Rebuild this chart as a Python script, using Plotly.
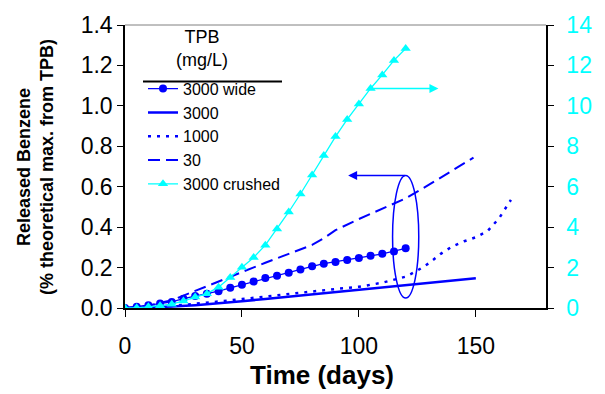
import plotly.graph_objects as go

# ---------------- data ----------------
days5_120 = list(range(0, 121, 5))
wide_3000 = [0, 0.006, 0.014, 0.022, 0.030, 0.046, 0.059, 0.070, 0.083, 0.100,
             0.115, 0.131, 0.148, 0.160, 0.175, 0.190, 0.206, 0.219, 0.228, 0.237,
             0.247, 0.258, 0.268, 0.280, 0.295]
crushed_3000 = [0, 0.01, 0.06, 0.11, 0.19, 0.35, 0.54, 0.71, 1.03, 1.51,
                2.02, 2.50, 3.11, 3.91, 4.75, 5.64, 6.58, 7.55, 8.48, 9.33,
                10.09, 10.86, 11.53, 12.25, 12.84]

days_solid = [0, 10, 20, 30, 40, 50, 60, 70, 80, 90, 100, 110, 120, 130, 140, 150]
solid_3000 = [0, 0.003, 0.007, 0.014, 0.023, 0.033, 0.045, 0.056, 0.067, 0.078,
              0.089, 0.100, 0.111, 0.122, 0.133, 0.147]

days_dot = [0, 10, 20, 30, 40, 50, 60, 70, 80, 90, 100, 110, 120, 125, 130, 135,
            140, 145, 150, 155, 160, 165]
dot_1000 = [0, 0.003, 0.010, 0.020, 0.032, 0.044, 0.057, 0.070, 0.082, 0.094,
            0.105, 0.125, 0.155, 0.185, 0.222, 0.268, 0.305, 0.330, 0.350, 0.380,
            0.445, 0.535]

days_dash = [0, 10, 20, 30, 40, 50, 60, 70, 80, 85, 90, 100, 110, 120, 130, 140, 149]
dash_30 = [0, 0.012, 0.038, 0.085, 0.133, 0.180, 0.224, 0.268, 0.312, 0.345,
           0.385, 0.440, 0.490, 0.542, 0.610, 0.680, 0.744]

x_ticks = [0, 50, 100, 150]
y_ticks = [0.0, 0.2, 0.4, 0.6, 0.8, 1.0, 1.2, 1.4]
y2_ticks = [0, 2, 4, 6, 8, 10, 12, 14]

BLUE = "#0000FF"
CYAN = "#00FFFF"
FONT = "Liberation Sans, Arial, sans-serif"

W, H = 605, 394
L, R, T, B = 125, 546, 17, 308


def px(x):
    return (x - L) / (R - L)


def py(y):
    return (B - y) / (B - T)


fig = go.Figure()

fig.add_trace(go.Scatter(x=days5_120, y=wide_3000, name="3000 wide", mode="lines+markers",
                         line=dict(color=BLUE, width=1.3),
                         marker=dict(symbol="circle", size=8, color=BLUE)))
fig.add_trace(go.Scatter(x=days_solid, y=solid_3000, name="3000", mode="lines",
                         line=dict(color=BLUE, width=2.5)))
fig.add_trace(go.Scatter(x=days_dot, y=dot_1000, name="1000", mode="lines",
                         line=dict(color=BLUE, width=2.5, dash="3px,6px")))
fig.add_trace(go.Scatter(x=days_dash, y=dash_30, name="30", mode="lines",
                         line=dict(color=BLUE, width=2, dash="12px,6px")))
fig.add_trace(go.Scatter(x=days5_120, y=crushed_3000, name="3000 crushed", mode="lines+markers",
                         yaxis="y2", line=dict(color=CYAN, width=1.3),
                         marker=dict(symbol="triangle-up", size=9, color=CYAN)))

# ellipse around the left-axis series
fig.add_shape(type="circle", xref="x", yref="y", x0=114.4, x1=125.6, y0=0.049, y1=0.656,
              line=dict(color=BLUE, width=1.5))
# top frame line
fig.add_shape(type="line", xref="paper", yref="paper", x0=0, x1=1, y0=1, y1=1,
              line=dict(color="#808080", width=1))
# legend title rule
fig.add_shape(type="line", xref="paper", yref="paper", x0=px(143), x1=px(282),
              y0=py(75), y1=py(75), line=dict(color="black", width=2))

annotations = [
    dict(x=95.4, y=0.656, ax=120.4, ay=0.656, xref="x", yref="y", axref="x", ayref="y",
         showarrow=True, arrowhead=2, arrowsize=1.2, arrowwidth=1.5, arrowcolor=BLUE, text=""),
    dict(x=134, y=10.86, ax=105, ay=10.86, xref="x", yref="y2", axref="x", ayref="y2",
         showarrow=True, arrowhead=2, arrowsize=1.2, arrowwidth=1.5, arrowcolor=CYAN, text=""),
    dict(x=px(202), y=py(41), xref="paper", yref="paper", text="TPB<br>(mg/L)",
         showarrow=False, xanchor="center", yanchor="middle",
         font=dict(family=FONT, size=18, color="black")),
    dict(x=px(322), y=py(377), xref="paper", yref="paper", text="<b>Time (days)</b>",
         showarrow=False, xanchor="center", yanchor="middle",
         font=dict(family=FONT, size=26, color="black")),
    dict(x=px(36), y=py(163), xref="paper", yref="paper", textangle=-90,
         text="<b>Released Benzene</b><br><b>(% theoretical max. from TPB)</b>",
         showarrow=False, xanchor="center", yanchor="middle",
         font=dict(family=FONT, size=18, color="black")),
]

fig.update_layout(
    width=W, height=H,
    margin=dict(l=L, r=W - R, t=T, b=H - B),
    paper_bgcolor="white", plot_bgcolor="white",
    font=dict(family=FONT, color="black"),
    showlegend=True,
    legend=dict(x=px(143), y=py(65), xanchor="left", yanchor="top",
                bgcolor="rgba(0,0,0,0)", font=dict(family=FONT, size=16, color="black"),
                itemwidth=30, tracegroupgap=0),
    annotations=annotations,
    xaxis=dict(range=[0, 180], tickvals=x_ticks, ticks="outside", ticklen=7,
               ticklabelstandoff=10,
               showline=True, linecolor="black", linewidth=1.5, showgrid=False, zeroline=False,
               tickfont=dict(family=FONT, size=23, color="black"), tickcolor="black"),
    yaxis=dict(range=[0, 1.4], tickvals=y_ticks, tickformat=".1f", ticks="outside", ticklen=6,
               showline=True, linecolor="black", linewidth=1.5, showgrid=False, zeroline=False,
               tickfont=dict(family=FONT, size=23, color="black"), tickcolor="black"),
    yaxis2=dict(range=[0, 14], tickvals=y2_ticks, overlaying="y", side="right", ticks="outside",
                ticklen=6, ticklabelstandoff=8, showline=True, linecolor="black", linewidth=1.5,
                showgrid=False, zeroline=False, tickfont=dict(family=FONT, size=23, color=CYAN),
                tickcolor="black"),
)

fig.write_html("out.html")
